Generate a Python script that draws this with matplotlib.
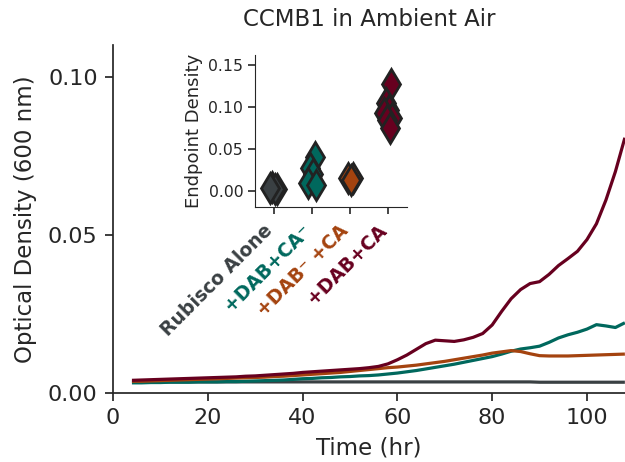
import numpy as np
import matplotlib
matplotlib.use("Agg")
import matplotlib.pyplot as plt
from matplotlib.transforms import ScaledTranslation, blended_transform_factory

# ---------------- data ----------------
time_hr = [4, 6, 8, 10, 12, 14, 16, 18, 20, 22, 24, 26, 28, 30, 32, 34, 36, 38,
           40, 42, 44, 46, 48, 50, 52, 54, 56, 58, 60, 62, 64, 66, 68, 70, 72,
           74, 76, 78, 80, 82, 84, 86, 88, 90, 92, 94, 96, 98, 100, 102, 104,
           106, 108]

od_rubisco = [0.0035, 0.0035, 0.0035, 0.0035, 0.0035, 0.0035, 0.0035, 0.0035,
              0.0035, 0.0035, 0.0035, 0.0035, 0.0035, 0.0035, 0.0035, 0.0035,
              0.0035, 0.0035, 0.0035, 0.0035, 0.0035, 0.0035, 0.0035, 0.0035,
              0.0035, 0.0035, 0.0035, 0.0035, 0.0035, 0.0035, 0.0035, 0.0035,
              0.0035, 0.0035, 0.0035, 0.0035, 0.0035, 0.0035, 0.0035, 0.0035,
              0.0035, 0.0035, 0.0035, 0.0034, 0.0034, 0.0034, 0.0034, 0.0034,
              0.0034, 0.0034, 0.0034, 0.0034, 0.0034]

od_dab_ca_minus = [0.0032, 0.0032, 0.0033, 0.0033, 0.0034, 0.0034, 0.0034, 0.0035,
                   0.0035, 0.0035, 0.0036, 0.0036, 0.0037, 0.0038, 0.0039, 0.0040,
                   0.0041, 0.0043, 0.0045, 0.0046, 0.0048, 0.0049, 0.0051, 0.0052,
                   0.0054, 0.0055, 0.0057, 0.0060, 0.0063, 0.0067, 0.0071, 0.0076,
                   0.0081, 0.0086, 0.0091, 0.0097, 0.0103, 0.0109, 0.0115, 0.0123,
                   0.0132, 0.0139, 0.0143, 0.0148, 0.0160, 0.0174, 0.0184, 0.0192,
                   0.0202, 0.0216, 0.0212, 0.0207, 0.0222]

od_dab_minus_ca = [0.0037, 0.0037, 0.0038, 0.0039, 0.0040, 0.0041, 0.0042, 0.0043,
                   0.0044, 0.0045, 0.0046, 0.0047, 0.0048, 0.0049, 0.0050, 0.0052,
                   0.0053, 0.0055, 0.0057, 0.0059, 0.0061, 0.0063, 0.0065, 0.0068,
                   0.0071, 0.0074, 0.0077, 0.0080, 0.0082, 0.0085, 0.0088, 0.0092,
                   0.0096, 0.0100, 0.0105, 0.0110, 0.0115, 0.0120, 0.0126, 0.0130,
                   0.0134, 0.0131, 0.0124, 0.0118, 0.0117, 0.0117, 0.0117, 0.0118,
                   0.0119, 0.0120, 0.0121, 0.0122, 0.0123]

od_dab_ca = [0.0040, 0.0041, 0.0042, 0.0043, 0.0044, 0.0045, 0.0046, 0.0047,
             0.0048, 0.0049, 0.0050, 0.0051, 0.0053, 0.0054, 0.0056, 0.0058,
             0.0060, 0.0062, 0.0065, 0.0067, 0.0069, 0.0071, 0.0073, 0.0075,
             0.0077, 0.0080, 0.0084, 0.0092, 0.0105, 0.0120, 0.0138, 0.0156,
             0.0167, 0.0165, 0.0163, 0.0168, 0.0176, 0.0188, 0.0215, 0.0258,
             0.0298, 0.0327, 0.0346, 0.0352, 0.0375, 0.0403, 0.0425, 0.0448,
             0.0485, 0.0535, 0.0610, 0.0700, 0.0807]

categories = ["Rubisco Alone", "+DAB+CA\u207b", "+DAB\u207b +CA", "+DAB+CA"]
endpoint_rubisco = [0.003, 0.005, 0.002, 0.004]
endpoint_dab_ca_minus = [0.041, 0.027, 0.020, 0.009, 0.007]
endpoint_dab_minus_ca = [0.015, 0.016, 0.013]
endpoint_dab_ca = [0.127, 0.105, 0.097, 0.093, 0.087, 0.085, 0.075]

# ---------------- style ----------------
colors = ["#3a4043", "#00685d", "#a4430f", "#67001f"]
text_color = "#262626"
plt.rcParams["font.family"] = ["DejaVu Sans"]
plt.rcParams["text.color"] = text_color
plt.rcParams["axes.labelcolor"] = text_color
plt.rcParams["xtick.color"] = text_color
plt.rcParams["ytick.color"] = text_color
plt.rcParams["axes.edgecolor"] = text_color

fig = plt.figure(figsize=(6.25, 4.62), dpi=100)
ax = fig.add_axes([0.1808, 0.1494, 0.819, 0.753])

series = [od_rubisco, od_dab_ca_minus, od_dab_minus_ca, od_dab_ca]
for vals, c in zip(series, colors):
    ax.plot(time_hr, vals, color=c, lw=2.3, solid_capstyle="butt")

ax.set_xlim(0, 108)
ax.set_ylim(0, 0.11)
ax.set_xticks([0, 20, 40, 60, 80, 100])
ax.set_yticks([0.0, 0.05, 0.10])
ax.set_yticklabels(["0.00", "0.05", "0.10"])
for s in ["top", "right"]:
    ax.spines[s].set_visible(False)
ax.spines["left"].set_linewidth(1.25)
ax.spines["bottom"].set_linewidth(1.25)
ax.tick_params(labelsize=16, length=6, width=1.25, pad=5)
ax.set_xlabel("Time (hr)", fontsize=16.5, labelpad=6)
ax.set_ylabel("Optical Density (600 nm)", fontsize=16.5, labelpad=8)
ax.set_title("CCMB1 in Ambient Air", fontsize=16.5, pad=14)

# ---------------- inset ----------------
ins = fig.add_axes([0.408, 0.552, 0.243, 0.329])
endpoints = [endpoint_rubisco, endpoint_dab_ca_minus, endpoint_dab_minus_ca, endpoint_dab_ca]
jitter = [0.08, -0.06, 0.03, -0.1, 0.11, -0.03, 0.06]
for i, (vals, c) in enumerate(zip(endpoints, colors)):
    xs = [i + jitter[k % len(jitter)] for k in range(len(vals))]
    ins.plot(xs, vals, linestyle="none", marker="d", markersize=15,
             markerfacecolor=c, markeredgecolor="#222222", markeredgewidth=2)
ins.set_xlim(-0.5, 3.5)
ins.set_ylim(-0.019, 0.162)
ins.set_yticks([0.0, 0.05, 0.10, 0.15])
ins.set_yticklabels(["0.00", "0.05", "0.10", "0.15"])
ins.set_xticks(range(len(categories)))
ins.set_xticklabels([])
label_tf = blended_transform_factory(ins.transData, ins.transAxes) + \
    ScaledTranslation(-11 / 100, -14 / 100, fig.dpi_scale_trans)
for i, (cat, c) in enumerate(zip(categories, colors)):
    ins.text(i, 0, cat, transform=label_tf, rotation=45, ha="right", va="top",
             rotation_mode="anchor", fontsize=13.5, fontweight="bold", color=c,
             clip_on=False)
for s in ["top", "right"]:
    ins.spines[s].set_visible(False)
ins.tick_params(axis="y", labelsize=11.3, length=5, width=1.2)
ins.tick_params(axis="x", length=5, width=1.2)
ins.set_ylabel("Endpoint Density", fontsize=13)

fig.savefig("out.png", dpi=100)
